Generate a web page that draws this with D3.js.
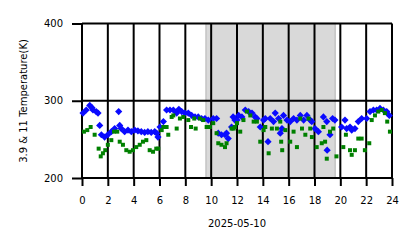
<!DOCTYPE html>
<html>
<head>
<meta charset="utf-8">
<script src="https://cdn.jsdelivr.net/npm/d3@7"></script>
<style>
  body { margin: 0; background: #fff; }
  text { font-family: "DejaVu Sans", sans-serif; fill: #000; }
</style>
</head>
<body>
<div id="chart"></div>
<script>
// hours of day and brightness temperature (K)
const bt39Hours = [0.08,0.33,0.6,0.77,0.85,1.1,1.24,1.37,1.5,1.75,2.0,2.27,2.53,2.84,2.92,3.04,3.3,3.56,3.82,4.08,4.33,4.59,4.85,5.1,5.36,5.63,5.78,5.88,6.04,6.3,6.55,6.81,7.07,7.33,7.5,7.72,7.97,8.23,8.49,8.75,9.0,9.26,9.52,9.78,10.16,10.42,10.55,10.8,11.07,11.19,11.32,11.58,11.7,11.84,12.0,12.13,12.38,12.64,12.9,13.16,13.41,13.54,13.8,14.06,14.19,14.4,14.57,14.83,14.96,15.22,15.35,15.48,15.6,15.87,16.12,16.38,16.64,16.9,17.16,17.41,17.67,17.79,18.04,18.3,18.69,18.95,18.98,19.2,19.4,19.58,20.1,20.36,20.49,20.75,20.88,21.13,21.39,21.65,22.04,22.3,22.56,22.81,23.07,23.33,23.59,23.79];
const bt39Vals  = [284,288,294,291,288,286,284,268,256,253,256,260,264,286,268,264,260,262,260,262,261,260,259,260,259,260,258,253,266,273,288,288,288,284,289,286,284,284,281,279,279,277,277,275,277,277,258,256,256,258,251,266,279,275,275,281,279,288,286,284,279,277,266,275,277,247,277,273,284,277,258,264,281,275,273,277,275,281,275,281,275,273,264,260,279,273,236,256,277,275,266,275,264,266,262,264,273,277,277,286,288,288,290,288,286,281];

const bt11Hours = [0.15,0.41,0.67,0.98,1.29,1.45,1.62,1.8,2.0,2.27,2.48,2.73,2.92,3.17,3.43,3.69,3.95,4.2,4.47,4.72,4.98,5.24,5.5,5.75,5.9,6.17,6.3,6.55,6.68,6.94,7.07,7.33,7.58,7.84,8.23,8.44,8.69,8.8,9.13,9.39,9.65,9.9,10.16,10.42,10.55,10.8,11.07,11.19,11.58,11.74,11.84,12.0,12.25,12.5,12.77,13.03,13.29,13.54,13.8,14.06,14.19,14.45,14.7,15.09,15.35,15.42,15.5,15.74,16.12,16.38,16.64,16.9,17.03,17.29,17.54,17.67,17.8,18.17,18.56,18.69,18.82,18.95,19.2,19.45,19.7,20.23,20.43,20.75,20.88,21.13,21.39,21.65,21.9,22.24,22.43,22.68,22.94,23.2,23.45,23.63,23.84];
const bt11Vals  = [260,262,266,256,238,228,232,236,243,249,260,260,247,243,236,234,236,240,243,247,249,236,234,238,238,262,266,266,256,279,281,264,277,279,275,266,277,264,277,275,266,266,271,258,245,243,240,245,264,264,266,271,260,275,286,281,273,273,247,262,266,232,264,264,273,247,236,262,247,260,240,277,264,256,277,264,253,240,245,266,247,225,260,264,228,240,256,236,230,236,251,251,236,245,275,281,286,288,284,273,260];

const xTicks = [0,2,4,6,8,10,12,14,16,18,20,22,24];
const yTicks = [200,300,400];
const nightSpan = [9.6, 19.6];
const dateLabel = "2025-05-10";
const yLabel = "3.9 & 11 Temperature(K)";

const width = 418, height = 248;

const svg = d3.select("#chart").append("svg")
  .attr("width", width)
  .attr("height", height);

const x = d3.scaleLinear().domain([0, 24]).range([82, 392]);
const y = d3.scaleLinear().domain([200, 400]).range([178, 23.5]);

// shaded period
svg.append("rect")
  .attr("x", x(nightSpan[0]))
  .attr("y", y(400))
  .attr("width", x(nightSpan[1]) - x(nightSpan[0]))
  .attr("height", y(200) - y(400))
  .attr("fill", "#d9d9d9")
  .attr("stroke", "#c4c4c4")
  .attr("stroke-width", 1.5);

// grid
const grid = svg.append("g");
grid.selectAll("line.v")
  .data(xTicks)
  .enter().append("line")
  .attr("x1", d => x(d)).attr("x2", d => x(d))
  .attr("y1", y(400)).attr("y2", y(200))
  .attr("stroke", "#000").attr("stroke-width", 2);
grid.selectAll("line.h")
  .data(yTicks)
  .enter().append("line")
  .attr("x1", x(0)).attr("x2", x(24))
  .attr("y1", d => y(d)).attr("y2", d => y(d))
  .attr("stroke", "#000").attr("stroke-width", 2);

// axes
const xAxis = d3.axisBottom(x).tickValues(xTicks).tickSize(8).tickPadding(11).tickFormat(d3.format("d"));
const yAxis = d3.axisLeft(y).tickValues(yTicks).tickSize(10).tickPadding(9).tickFormat(d3.format("d"));

const gx = svg.append("g").attr("transform", "translate(0," + y(200) + ")").call(xAxis);
const gy = svg.append("g").attr("transform", "translate(" + x(0) + ",0)").call(yAxis);
[gx, gy].forEach(g => {
  g.select(".domain").remove();
  g.selectAll(".tick line").attr("stroke", "#000").attr("stroke-width", 2);
  g.selectAll(".tick text").attr("font-size", 10).attr("font-family", "DejaVu Sans");
});

svg.append("text")
  .attr("x", (x(0) + x(24)) / 2)
  .attr("y", 226.5)
  .attr("text-anchor", "middle")
  .attr("font-size", 10)
  .text(dateLabel);

svg.append("text")
  .attr("transform", "translate(26.5," + 101 + ") rotate(-90)")
  .attr("text-anchor", "middle")
  .attr("font-size", 10)
  .text(yLabel);

// points
const blue = bt39Hours.map((h, i) => ({h: h, v: bt39Vals[i]}));
const green = bt11Hours.map((h, i) => ({h: h, v: bt11Vals[i]}));

const diamond = d3.symbol().type(d3.symbolSquare).size(26);
svg.append("g").selectAll("path")
  .data(blue)
  .enter().append("path")
  .attr("d", diamond)
  .attr("transform", d => "translate(" + x(d.h) + "," + y(d.v) + ") rotate(45)")
  .attr("fill", "#0a0aff");

const square = d3.symbol().type(d3.symbolSquare).size(16);
svg.append("g").selectAll("path")
  .data(green)
  .enter().append("path")
  .attr("d", square)
  .attr("transform", d => "translate(" + x(d.h) + "," + y(d.v) + ")")
  .attr("fill", "#008000");
</script>
</body>
</html>
